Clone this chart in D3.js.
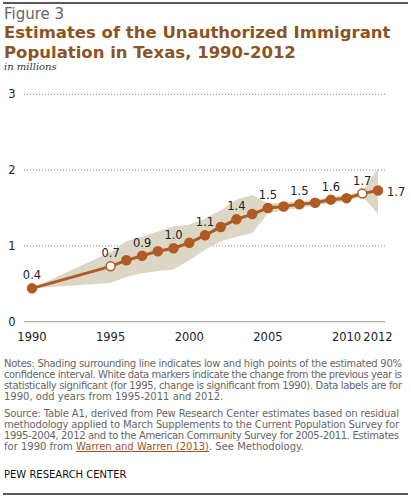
<!DOCTYPE html>
<html><head><meta charset="utf-8">
<script src="https://cdn.jsdelivr.net/npm/d3@7"></script>
<style>body{margin:0;background:#fff}</style>
</head><body>
<script>
const years = [1990,1995,1996,1997,1998,1999,2000,2001,2002,2003,2004,2005,2006,2007,2008,2009,2010,2011,2012]
const estimate = [0.44,0.73,0.81,0.87,0.93,0.97,1.04,1.14,1.25,1.35,1.42,1.50,1.52,1.55,1.57,1.61,1.63,1.69,1.73]
const low = [0.44,0.51,0.59,0.64,0.67,0.69,0.81,0.95,1.06,1.12,1.17,1.43,1.47,1.50,1.53,1.57,1.59,1.66,1.42]
const high = [0.44,0.92,1.06,1.12,1.19,1.26,1.28,1.36,1.47,1.61,1.67,1.56,1.57,1.59,1.61,1.65,1.67,1.72,2.02]
const openYears = [1995,2011]
const labelYears = [1990,1995,1997,1999,2001,2003,2005,2007,2009,2011,2012]
const labelText = {1990:'0.4',1995:'0.7',1997:'0.9',1999:'1.0',2001:'1.1',2003:'1.4',2005:'1.5',2007:'1.5',2009:'1.6',2011:'1.7',2012:'1.7'}
const yTicks = [0,1,2,3]
const xTicks = [1990,1995,2000,2005,2010,2012]
const notes = [
 'Notes: Shading surrounding line indicates low and high points of the estimated 90%',
 'confidence interval. White data markers indicate the change from the previous year is',
 'statistically significant (for 1995, change is significant from 1990). Data labels are for',
 '1990, odd years from 1995-2011 and 2012.'
]
const source = [
 'Source: Table A1, derived from Pew Research Center estimates based on residual',
 'methodology applied to March Supplements to the Current Population Survey for',
 '1995-2004, 2012 and to the American Community Survey for 2005-2011. Estimates'
]

const svg = d3.select('body').append('svg').attr('width',411).attr('height',497)
const sans = 'DejaVu Sans, Verdana, sans-serif'
const brown = '#b05a24'

svg.append('line').attr('x1',3).attr('x2',408).attr('y1',3).attr('y2',3).attr('stroke','#222').attr('stroke-width',1.5)
svg.append('line').attr('x1',3).attr('x2',408).attr('y1',494).attr('y2',494).attr('stroke','#222').attr('stroke-width',1.5)
svg.append('text').attr('x',4).attr('y',19).text('Figure 3').attr('font-family',sans).attr('font-size',15).attr('fill','#666')
svg.selectAll('text.title').data(['Estimates of the Unauthorized Immigrant','Population in Texas, 1990-2012']).enter()
  .append('text').attr('x',4).attr('y',(d,i)=>38+i*20).text(d=>d)
  .attr('font-family',sans).attr('font-weight','bold').attr('font-size',16.5).attr('fill','#8a5424')
svg.append('text').attr('x',4).attr('y',70).text('in millions').attr('font-family','DejaVu Serif, serif').attr('font-style','italic').attr('font-size',10).attr('fill','#333')

const x = d3.scaleLinear().domain([1990,2012]).range([32,378])
const y = d3.scaleLinear().domain([0,3]).range([321.7,94.3])

svg.selectAll('line.grid').data(yTicks.filter(d=>d>0)).enter().append('line')
  .attr('x1',24).attr('x2',385).attr('y1',d=>y(d)).attr('y2',d=>y(d))
  .attr('stroke','#888').attr('stroke-dasharray','1,2')
svg.append('line').attr('x1',24).attr('x2',385).attr('y1',y(0)).attr('y2',y(0)).attr('stroke','#999')
svg.selectAll('text.yt').data(yTicks).enter().append('text')
  .attr('x',12).attr('y',d=>y(d)+4).attr('text-anchor','middle').text(d=>d)
  .attr('font-family',sans).attr('font-size',11.5).attr('fill','#222')
svg.selectAll('text.xt').data(xTicks).enter().append('text')
  .attr('x',d=>x(d)).attr('y',341).attr('text-anchor','middle').text(d=>d)
  .attr('font-family',sans).attr('font-size',11.5).attr('fill','#222')

const area = d3.area().x((d,i)=>x(years[i])).y0((d,i)=>y(low[i])).y1((d,i)=>y(high[i]))
svg.append('path').attr('d',area(years)).attr('fill','#dcd6c4')
const line = d3.line().x((d,i)=>x(years[i])).y(d=>y(d))
svg.append('path').attr('d',line(estimate)).attr('fill','none').attr('stroke',brown).attr('stroke-width',3)
svg.selectAll('circle.pt').data(years).enter().append('circle')
  .attr('cx',d=>x(d)).attr('cy',(d,i)=>y(estimate[i])).attr('r',4.5)
  .attr('fill',d=>openYears.includes(d)?'#fff':brown).attr('stroke',brown).attr('stroke-width',1.5)
svg.selectAll('text.lab').data(labelYears).enter().append('text')
  .attr('x',d=>d===2012?x(d)+9:x(d)).attr('y',d=>{const v=estimate[years.indexOf(d)];return d===2012?y(v)+5:y(v)-9})
  .attr('text-anchor',d=>d===2012?'start':'middle').text(d=>labelText[d])
  .attr('font-family',sans).attr('font-size',11.5).attr('fill','#222')

const small = 10
svg.selectAll('text.note').data(notes).enter().append('text')
  .attr('x',4).attr('y',(d,i)=>367+i*11).text(d=>d).attr('font-family',sans).attr('font-size',small).attr('fill','#666').attr('textLength',d=>d.length>60?398:null)
svg.selectAll('text.src').data(source).enter().append('text')
  .attr('x',4).attr('y',(d,i)=>417+i*11).text(d=>d).attr('font-family',sans).attr('font-size',small).attr('fill','#666').attr('textLength',d=>d.length>75?395:null)
const last = svg.append('text').attr('x',4).attr('y',450).attr('font-family',sans).attr('font-size',small).attr('fill','#666')
last.append('tspan').text('for 1990 from ')
last.append('tspan').text('Warren and Warren (2013)').attr('fill','#a0522d').attr('text-decoration','underline')
last.append('tspan').text('. See Methodology.')
svg.append('text').attr('x',4).attr('y',478).text('PEW RESEARCH CENTER').attr('font-family',sans).attr('font-size',10).attr('fill','#111')
</script>
</body></html>
